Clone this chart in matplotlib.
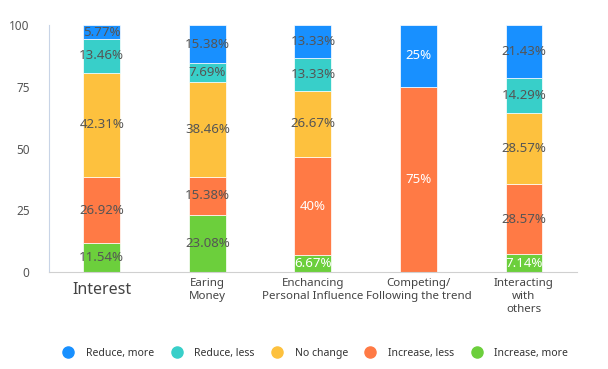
import matplotlib.pyplot as plt
from matplotlib.lines import Line2D
import numpy as np

plt.rcParams['font.family'] = ['Noto Sans', 'DejaVu Sans']

categories = ["Interest", "Earing\nMoney", "Enchancing\nPersonal Influence",
              "Competing/\nFollowing the trend", "Interacting\nwith\nothers"]
series_names = ["Increase, more", "Increase, less", "No change", "Reduce, less", "Reduce, more"]
increase_more = [11.54, 23.08, 6.67, 0, 7.14]
increase_less = [26.92, 15.38, 40, 75, 28.57]
no_change = [42.31, 38.46, 26.67, 0, 28.57]
reduce_less = [13.46, 7.69, 13.33, 0, 14.29]
reduce_more = [5.77, 15.38, 13.33, 25, 21.43]

colors = ["#6CCF3C", "#FF7A45", "#FDC13E", "#38CFC9", "#1890FF"]
# (series, category) labels drawn in white instead of grey
white_labels = {(0, 2), (0, 4), (1, 2), (1, 3), (4, 3)}

series = [increase_more, increase_less, no_change, reduce_less, reduce_more]

fig = plt.figure(figsize=(6.08, 3.69), dpi=100)
ax = fig.add_axes([0.0806, 0.263, 0.868, 0.669])

x = np.arange(len(categories))
bottom = np.zeros(len(categories))
for si, vals in enumerate(series):
    vals = np.array(vals, dtype=float)
    ax.bar(x, vals, 0.35, bottom=bottom, color=colors[si], edgecolor="white", linewidth=0.5)
    for ci, v in enumerate(vals):
        if v <= 0:
            continue
        txt = f"{v:g}%"
        col = "white" if (si, ci) in white_labels else "#555555"
        ax.text(x[ci], bottom[ci] + v / 2, txt, ha="center", va="center",
                fontsize=9.5, color=col)
    bottom += vals

ax.set_xlim(-0.5, 4.5)
ax.set_ylim(0, 100)
ax.set_yticks([0, 25, 50, 75, 100])
ax.tick_params(axis="y", length=0, labelsize=8.5, labelcolor="#555555", pad=14)
ax.tick_params(axis="x", length=0, pad=4)
ax.set_xticks(x)
ax.set_xticklabels(categories, color="#444444", fontsize=8.3, va="top", linespacing=1.3)
ax.get_xticklabels()[0].set_fontsize(11.5)
ax.get_xticklabels()[0].set_y(-0.02)
for s in ["top", "right"]:
    ax.spines[s].set_visible(False)
ax.spines["left"].set_color("#C8D4E6")
ax.spines["bottom"].set_color("#D0D0D0")

handles = [Line2D([], [], marker="o", linestyle="", markersize=8,
                  color=colors[i]) for i in range(4, -1, -1)]
labels = [series_names[i] for i in range(4, -1, -1)]
fig.legend(handles, labels, loc="center", bbox_to_anchor=(0.515, 0.043), ncol=5,
           frameon=False, fontsize=7.5, handletextpad=0.7, columnspacing=1.15,
           labelcolor="#333333")

fig.savefig("out.png", dpi=100)
